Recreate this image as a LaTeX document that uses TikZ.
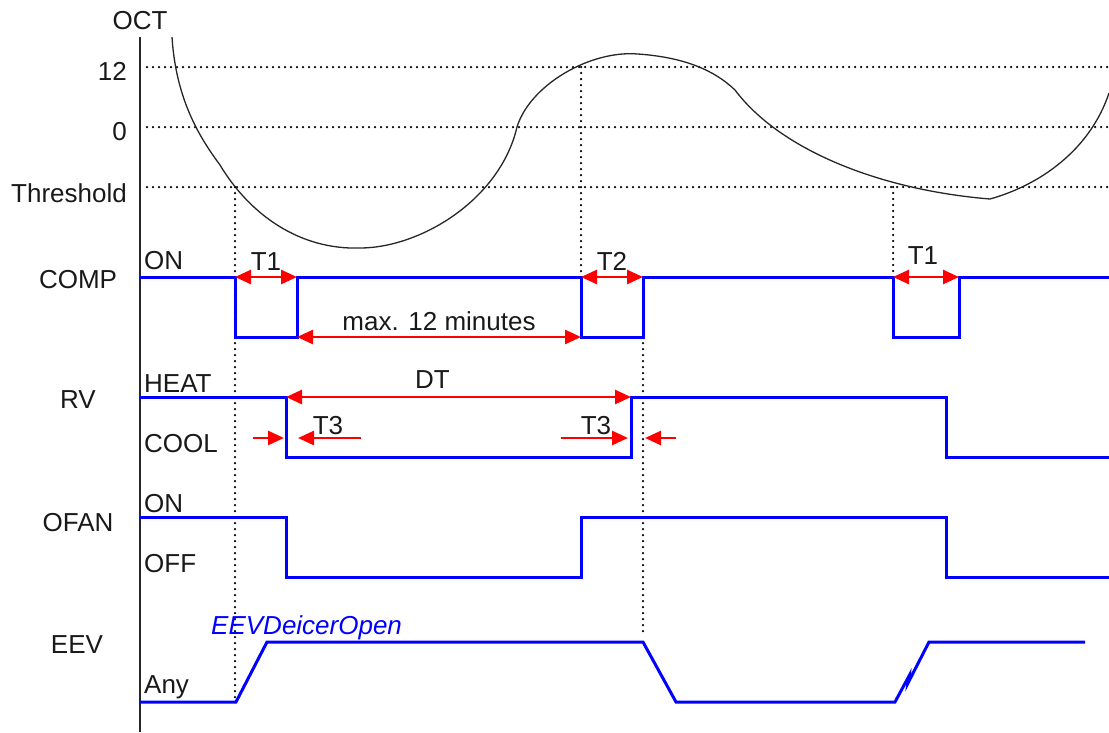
\documentclass[tikz,border=0pt]{standalone}
\usepackage{fontspec}
\setmainfont{Liberation Sans}
\usetikzlibrary{arrows.meta}

\tikzset{
    sig/.style={blue, line width=3pt},
    guide/.style={black, line width=2.5pt, dash pattern=on 0pt off 6pt, line cap=round},
    dimarrow/.style={red, line width=2.6pt, {Triangle[length=16pt,width=14pt]}-{Triangle[length=16pt,width=14pt]}},
    onearrow/.style={red, line width=2.6pt, -{Triangle[length=16pt,width=14pt]}},
    lbl/.style={font=\fontsize{26}{31}\selectfont, text=black!90, inner sep=0pt, anchor=base},
    lvl/.style={lbl, anchor=base west},
}

\begin{document}
\begin{tikzpicture}[x=1pt,y=-1pt]
    \useasboundingbox (0,0) rectangle (1109,732);

    % Asse
    \draw[line width=2.6pt, black!85] (140,37) -- (140,732);
    \node[lbl] (oct) at (140,29) {OCT};
    \node[lbl, anchor=base east] (v12) at (127,80) {12};
    \node[lbl, anchor=base east] (v0) at (127,140) {0};
    \node[lbl, anchor=base east] (thr) at (127,202) {Threshold};

    % Livelli OCT
    \draw[guide] (147,67) -- (1109,67);
    \draw[guide] (147,127) -- (1109,127);
    \draw[guide] (147,187) -- (1109,187);

    % Curva
    \draw[line width=1.3pt, black!85]
        (172,37)
        .. controls (176,100) and (200,138)
        .. (220,165)
        .. controls (250,215) and (300,250)
        .. (360,248)
        .. controls (420,248) and (500,200)
        .. (517,127)
        .. controls (530,85) and (590,50)
        .. (638,54)
        .. controls (680,57) and (712,68)
        .. (735,90)
        .. controls (780,150) and (880,190)
        .. (990,199)
        .. controls (1040,185) and (1090,150)
        .. (1109,93);

    % Linee verticali tratteggiate
    \draw[guide] (235,187) -- (235,700);
    \draw[guide] (581,67) -- (581,277);
    \draw[guide] (643,337) -- (643,636);
    \draw[guide] (893,187) -- (893,277);

    % Segnali
    \node[lbl] (comp) at (78,288) {COMP};
    \node[lvl] (compon) at (144,269) {ON};
    \draw[sig] (140,277) -| (235,337) -| (297,277) -| (581,337) -| (643,277) -| (893,337) -| (959,277) -- (1109,277);

    \node[lbl] (rv) at (78,408) {RV};
    \node[lvl] (heat) at (144,392) {HEAT};
    \node[lvl] (cool) at (144,452) {COOL};
    \draw[sig] (140,397) -| (286,457) -| (631,397) -| (946,457) -- (1109,457);

    \node[lbl] (ofan) at (78,531) {OFAN};
    \node[lvl] (fanon) at (144,512) {ON};
    \node[lvl] (fanoff) at (144,572) {OFF};
    \draw[sig] (140,517) -| (286,577) -| (581,517) -| (946,577) -- (1109,577);

    \node[lbl] (eev) at (77,653) {EEV};
    \node[lvl] (any) at (144,693) {Any};
    \node[lvl, text=blue, font=\fontsize{26}{31}\selectfont\itshape] (open) at (211,634) {EEVDeicerOpen};
    \draw[sig] (140,702) -- (236,702) -- (267,642) -- (643,642) -- (676,702) -- (895,702)
        -- (909,676) -- (908,683) -- (929,642) -- (1085,642);

    % Tempi
    \coordinate (t1a) at (235,277);
    \coordinate (t1b) at (297,277);
    \coordinate (mxa) at (297,337);
    \coordinate (mxb) at (581,337);
    \coordinate (t2a) at (581,277);
    \coordinate (t2b) at (643,277);
    \coordinate (t1c) at (893,277);
    \coordinate (t1d) at (959,277);
    \coordinate (dta) at (286,397);
    \coordinate (dtb) at (631,397);

    \draw[dimarrow] (t1a) -- (t1b) node[midway, lbl, yshift=7pt] (lt1) {T1};
    \draw[dimarrow] (mxa) -- (mxb) node[midway, lbl, yshift=7pt] (lmax) {max. 12 minutes};
    \draw[dimarrow] (t2a) -- (t2b) node[midway, lbl, yshift=7pt] (lt2) {T2};
    \draw[dimarrow] (t1c) -- (t1d) node[midway, lbl, yshift=13pt, xshift=-3pt] (lt1b) {T1};
    \draw[dimarrow] (dta) -- (dtb) node[midway, lbl, yshift=9pt, xshift=-26pt] (ldt) {DT};

    % T3
    \coordinate (t3a) at (253,438);
    \coordinate (t3b) at (284,438);
    \coordinate (t3c) at (361,438);
    \coordinate (t3d) at (298,438);
    \coordinate (t3e) at (561,438);
    \coordinate (t3f) at (628,438);
    \coordinate (t3g) at (676,438);
    \coordinate (t3h) at (645,438);
    \draw[onearrow] (t3a) -- (t3b);
    \draw[onearrow] (t3c) -- (t3d);
    \draw[onearrow] (t3e) -- (t3f);
    \draw[onearrow] (t3g) -- (t3h);
    \node[lbl] (lt3a) at (328,434) {T3};
    \node[lbl] (lt3b) at (596,434) {T3};

\end{tikzpicture}
\end{document}
